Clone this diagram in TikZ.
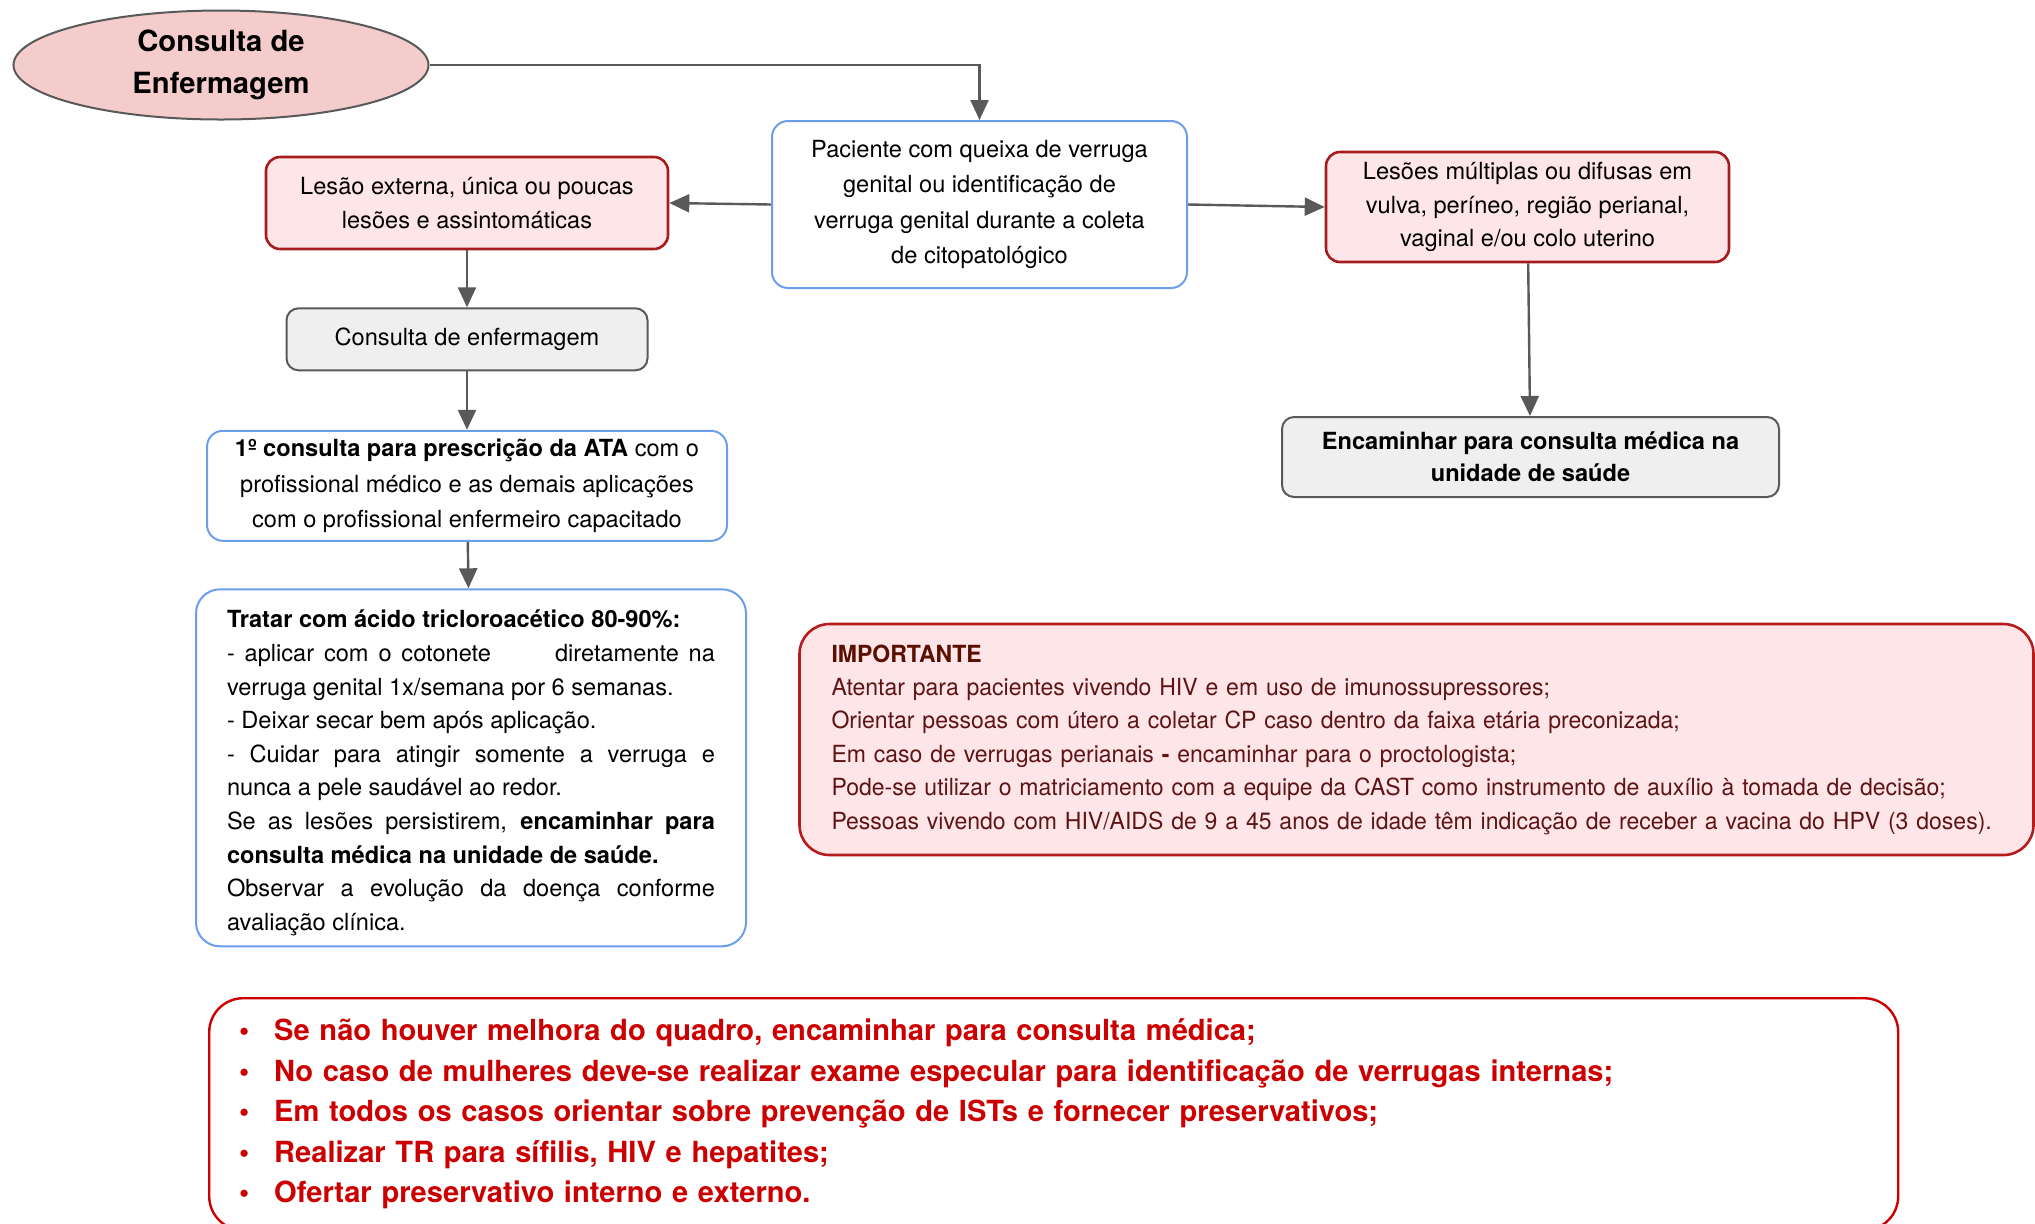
\documentclass[tikz,border=0pt]{standalone}
\usepackage{fontspec}
\setmainfont{TeX Gyre Heros}
\newfontfamily\notefont{TeX Gyre Heros}[FakeStretch=0.975]
\usetikzlibrary{arrows.meta, positioning, shapes.geometric}

\definecolor{linegray}{HTML}{595959}
\definecolor{startpink}{HTML}{F4CCCC}
\definecolor{pinkfill}{HTML}{FDE5E8}
\definecolor{darkred}{HTML}{A61C1C}
\definecolor{boxblue}{HTML}{6D9EEB}
\definecolor{boxgray}{HTML}{EFEFEF}
\definecolor{alertred}{HTML}{CC0000}
\definecolor{noteborder}{HTML}{B71C1C}
\definecolor{notetitle}{HTML}{5B0F00}
\definecolor{notetext}{HTML}{5E1414}

\begin{document}
\begin{tikzpicture}[x=0.5pt, y=-0.5pt,
  basetext/.style={font=\fontsize{11.8}{16.8}\selectfont, align=center},
  bluebox/.style={basetext, draw=boxblue, line width=1pt, rounded corners=8pt, fill=white},
  redbox/.style={basetext, draw=darkred, line width=1.3pt, rounded corners=7pt, fill=pinkfill},
  graybox/.style={basetext, draw=linegray, line width=1pt, rounded corners=6pt, fill=boxgray},
  arrow/.style={-{Triangle[length=10pt, width=9pt]}, line width=1.2pt, draw=linegray}
]
\useasboundingbox (0,0) rectangle (2035,1223);

\node[ellipse, draw=linegray, line width=1pt, fill=startpink, inner sep=0pt, minimum width=207.5pt, minimum height=54.5pt,
  font=\bfseries\fontsize{14.6}{20.75}\selectfont, align=center] (start) at (221,65) {Consulta de\\Enfermagem};

\node[bluebox, minimum width=207.5pt, minimum height=83.5pt, font=\fontsize{11.8}{17.8}\selectfont] (queixa) at (979.5,204.5)
  {Paciente com queixa de verruga\\genital ou identificação de\\verruga genital durante a coleta\\de citopatológico};
\node[redbox, minimum width=201pt, minimum height=46pt] (unica) at (467,203)
  {Lesão externa, única ou poucas\\lesões e assintomáticas};
\node[redbox, minimum width=201.5pt, minimum height=55pt] (multiplas) at (1527.5,207)
  {Lesões múltiplas ou difusas em\\vulva, períneo, região perianal,\\vaginal e/ou colo uterino};
\node[graybox, minimum width=248.5pt, minimum height=40pt, font=\bfseries\fontsize{11.8}{16.2}\selectfont] (medica) at (1530.5,457)
  {Encaminhar para consulta médica na\\unidade de saúde};

% coluna da esquerda
\node[graybox, minimum width=180.5pt, minimum height=31pt, below=28.5pt of unica] (enfermagem) {Consulta de enfermagem};
\node[bluebox, minimum width=260pt, minimum height=55pt, font=\fontsize{11.8}{17.8}\selectfont, below=29.25pt of enfermagem] (prescricao)
  {\textbf{1º consulta para prescrição da ATA} com o\\profissional médico e as demais aplicações\\com o profissional enfermeiro capacitado};
\node[bluebox, rounded corners=12pt, text width=244pt, inner xsep=15.5pt, align=justify, minimum height=178.5pt,
  below=23.25pt of prescricao, xshift=2pt] (tratar)
  {\rule{0pt}{14pt}\textbf{Tratar com ácido tricloroacético 80-90\%:}\\
   - aplicar com o cotonete\hspace{2.3em} diretamente na\linebreak
   verruga genital 1x/semana por 6 semanas.\\
   - Deixar secar bem após aplicação.\\
   - Cuidar para atingir somente a verruga e\linebreak
   nunca a pele saudável ao redor.\\
   Se as lesões persistirem, \textbf{encaminhar para\linebreak
   consulta médica na unidade de saúde.}\\
   Observar a evolução da doença conforme\linebreak
   avaliação clínica.};

% avisos
\node[draw=noteborder, line width=1.3pt, fill=pinkfill, rounded corners=15pt, text width=585pt, inner xsep=16pt,
  minimum height=115.5pt, align=left, text=notetext, font=\notefont\fontsize{11.8}{16.7}\selectfont] (importante) at (1416.5,739.5)
  {\textbf{\color{notetitle}IMPORTANTE}\\
   Atentar para pacientes vivendo HIV e em uso de imunossupressores;\\
   Orientar pessoas com útero a coletar CP caso dentro da faixa etária preconizada;\\
   Em caso de verrugas perianais \textbf{-} encaminhar para o proctologista;\\
   Pode-se utilizar o matriciamento com a equipe da CAST como instrumento de auxílio à tomada de decisão;\\
   Pessoas vivendo com HIV/AIDS de 9 a 45 anos de idade têm indicação de receber a vacina do HPV (3 doses).};

\node[draw=alertred, line width=1.2pt, fill=white, rounded corners=17pt, anchor=north west, text width=814.5pt, inner xsep=15pt,
  minimum height=116pt, align=left, text=alertred, font=\bfseries\fontsize{14.55}{20.25}\selectfont] (condutas) at (208,997)
  {\makebox[17.5pt][l]{\textbullet}Se não houver melhora do quadro, encaminhar para consulta médica;\\
   \makebox[17.5pt][l]{\textbullet}No caso de mulheres deve-se realizar exame especular para identificação de verrugas internas;\\
   \makebox[17.5pt][l]{\textbullet}Em todos os casos orientar sobre prevenção de ISTs e fornecer preservativos;\\
   \makebox[17.5pt][l]{\textbullet}Realizar TR para sífilis, HIV e hepatites;\\
   \makebox[17.5pt][l]{\textbullet}Ofertar preservativo interno e externo.};

\draw[arrow] (start.east) -| (queixa.north);
\draw[arrow] (queixa.west) -- (unica.east);
\draw[arrow] (queixa.east) -- (multiplas.west);
\draw[arrow] (multiplas) -- (medica);
\draw[arrow] (unica) -- (enfermagem);
\draw[arrow] (enfermagem) -- (prescricao);
\draw[arrow] (prescricao) -- (tratar);
\end{tikzpicture}
\end{document}
